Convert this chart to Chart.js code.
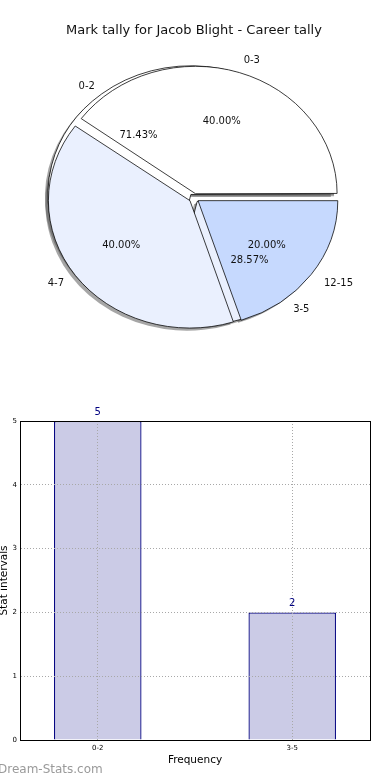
<!DOCTYPE html>
<html>
<head>
<meta charset="utf-8">
<script src="https://cdn.jsdelivr.net/npm/chart.js@4.4.1/dist/chart.umd.min.js"></script>
<style>
  body { margin: 0; background: #fff; }
  #page { position: relative; width: 390px; height: 780px; overflow: hidden; font-family: "DejaVu Sans", sans-serif; }
  .layer { position: absolute; left: 0; width: 390px; }
  #title { position: absolute; top: 22px; left: 0; width: 388px; line-height: 15px; text-align: center; font-size: 13px; color: #111; }
</style>
</head>
<body>
<div id="page">
  <div class="layer" style="top:0;height:390px"><canvas id="pieBack"></canvas></div>
  <div class="layer" style="top:0;height:390px"><canvas id="pieFront"></canvas></div>
  <div id="title">Mark tally for Jacob Blight - Career tally</div>
  <div class="layer" style="top:390px;height:390px"><canvas id="bars"></canvas></div>
</div>
<script>
const pieCats = ['0-3', '4-7', '12-15'];
const pieCounts = [2, 2, 1];
const barCats = ['0-2', '3-5'];
const barCounts = [5, 2];
const yTicks = [0, 1, 2, 3, 4, 5];

const FAMILY = '"DejaVu Sans"';
const SY = 0.9; // pie was drawn without equal aspect, so it is an ellipse

let backChart, frontChart;

// squash the pie vertically around its centre
function squash(chart) {
  const a = chart.getDatasetMeta(0).data[0];
  const ctx = chart.ctx;
  ctx.translate(a.x, a.y);
  ctx.scale(1, SY);
  ctx.translate(-a.x, -a.y);
}

function arcPoint(a, f) {
  const mid = (a.startAngle + a.endAngle) / 2;
  const d = a.options.offset / 4 + f * (a.outerRadius + 2);
  return { x: a.x + Math.cos(mid) * d, y: a.y + Math.sin(mid) * d * SY, cos: Math.cos(mid) };
}

const squashPlugin = {
  id: 'squash',
  beforeDatasetsDraw(chart) {
    const ctx = chart.ctx;
    if (chart.canvas.id === 'pieBack') {
      // shadows of both pies sit under every wedge
      ctx.save();
      squash(chart);
      [chart, frontChart].forEach(c => {
        if (!c) return;
        c.getDatasetMeta(0).data.forEach(a => {
          const mid = (a.startAngle + a.endAngle) / 2;
          const off = a.options.offset / 4;
          const circ = a.endAngle - a.startAngle;
          const r = a.outerRadius + off * (1 - Math.sin(Math.min(Math.PI, circ)));
          const x = a.x + Math.cos(mid) * off - 3;
          const y = a.y + Math.sin(mid) * off + 2.6 / SY;
          ctx.beginPath();
          ctx.moveTo(x, y);
          ctx.arc(x, y, r, a.startAngle, a.endAngle);
          ctx.closePath();
          ctx.fillStyle = 'rgba(77,77,77,0.5)';
          ctx.fill();
        });
      });
      ctx.restore();
    }
    ctx.save();
    squash(chart);
  },
  afterDatasetsDraw(chart) {
    chart.ctx.restore();
  }
};

function drawPieLabels(ctx, c) {
  const labels = c.data.labels;
  const vals = c.data.datasets[0].data;
  const total = vals.reduce((s, v) => s + v, 0);
  c.getDatasetMeta(0).data.forEach((a, i) => {
    const out = arcPoint(a, 1.1);
    ctx.textAlign = out.cos < 0 ? 'right' : 'left';
    ctx.fillText(labels[i], out.x, out.y);
    const inn = arcPoint(a, 0.6);
    ctx.textAlign = 'center';
    ctx.fillText((vals[i] / total * 100).toFixed(2) + '%', inn.x, inn.y);
  });
}

const pieLabelPlugin = {
  id: 'pieLabels',
  afterDraw(chart) {
    const ctx = chart.ctx;
    ctx.save();
    ctx.fillStyle = '#111';
    ctx.font = '10px ' + FAMILY;
    ctx.textBaseline = 'middle';
    [backChart, chart].forEach(c => { if (c) drawPieLabels(ctx, c); });
    ctx.restore();
  }
};

// matplotlib goes counter-clockwise from 3 o'clock, chart.js clockwise: reverse order
function pieConfig(cats, counts, colors, radius, plugins) {
  return {
    type: 'pie',
    data: {
      labels: cats.slice().reverse(),
      datasets: [{
        data: counts.slice().reverse(),
        backgroundColor: colors,
        borderColor: '#000',
        borderWidth: 0.8,
        offset: 20,
        clip: false
      }]
    },
    options: {
      responsive: true,
      maintainAspectRatio: false,
      animation: false,
      events: [],
      rotation: 90,
      radius: radius,
      layout: { padding: { left: 0, right: 2, top: 6, bottom: 0 } },
      plugins: { legend: { display: false }, tooltip: { enabled: false } }
    },
    plugins: plugins
  };
}

backChart = new Chart(document.getElementById('pieBack'),
  pieConfig(barCats, barCounts, ['#eaf0fe', '#ffffff'], 138, [squashPlugin]));
frontChart = new Chart(document.getElementById('pieFront'),
  pieConfig(pieCats, pieCounts, ['#c6d9fe', '#eaf0fe', '#ffffff'], 139.5, [squashPlugin, pieLabelPlugin]));
backChart.draw();

// bar chart
const barDecor = {
  id: 'barDecor',
  afterDraw(chart) {
    const { ctx, chartArea: ca } = chart;
    ctx.save();
    ctx.strokeStyle = '#000';
    ctx.lineWidth = 1;
    ctx.strokeRect(Math.round(ca.left) + 0.5, Math.round(ca.top) + 0.5,
      Math.round(ca.right - ca.left), Math.round(ca.bottom - ca.top));
    ctx.fillStyle = '#000080';
    ctx.font = '10px ' + FAMILY;
    ctx.textAlign = 'center';
    ctx.textBaseline = 'middle';
    chart.getDatasetMeta(0).data.forEach((bar, i) => {
      ctx.fillText(String(barCounts[i]), bar.x, bar.y - 9);
    });
    ctx.fillStyle = '#9a9a9a';
    ctx.font = '12px ' + FAMILY;
    ctx.textAlign = 'left';
    ctx.fillText('Dream-Stats.com', -2, chart.height - 10);
    ctx.restore();
  }
};

const borderOpts = { display: true, color: '#000', width: 1, dash: [1, 2], z: 1 };

new Chart(document.getElementById('bars'), {
  type: 'bar',
  data: {
    datasets: [{
      data: barCounts.map((v, i) => ({ x: i, y: v })),
      backgroundColor: '#cbcbe6',
      borderColor: '#000080',
      borderWidth: 1.3,
      barPercentage: 0.45,
      categoryPercentage: 1
    }]
  },
  options: {
    responsive: true,
    maintainAspectRatio: false,
    animation: false,
    events: [],
    layout: { padding: { top: 31, right: 20, left: 0, bottom: 0 } },
    plugins: { legend: { display: false }, tooltip: { enabled: false } },
    scales: {
      x: {
        type: 'linear',
        min: -0.4,
        max: 1.4,
        offset: false,
        afterBuildTicks: s => { s.ticks = barCats.map((c, i) => ({ value: i })); },
        afterFit: s => { s.height = 40; },
        ticks: { callback: v => barCats[v], font: { family: FAMILY, size: 7 }, color: '#000', padding: 4, maxRotation: 0 },
        grid: { color: '#a8a8a8', lineWidth: 1, drawTicks: false, offset: false, z: 1 },
        border: borderOpts,
        title: { display: true, text: 'Frequency', font: { family: FAMILY, size: 10.5 }, color: '#000', padding: { top: 0, bottom: 13 } }
      },
      y: {
        min: 0,
        max: 5,
        afterBuildTicks: s => { s.ticks = yTicks.map(v => ({ value: v })); },
        afterFit: s => { s.width = 20; },
        ticks: { font: { family: FAMILY, size: 7 }, color: '#000', padding: 3 },
        grid: { color: '#a8a8a8', lineWidth: 1, drawTicks: false, z: 1 },
        border: borderOpts,
        title: { display: true, text: 'Stat intervals', font: { family: FAMILY, size: 10.5 }, color: '#000', padding: { top: -2.5, bottom: 0 } }
      }
    }
  },
  plugins: [barDecor]
});
</script>
</body>
</html>
